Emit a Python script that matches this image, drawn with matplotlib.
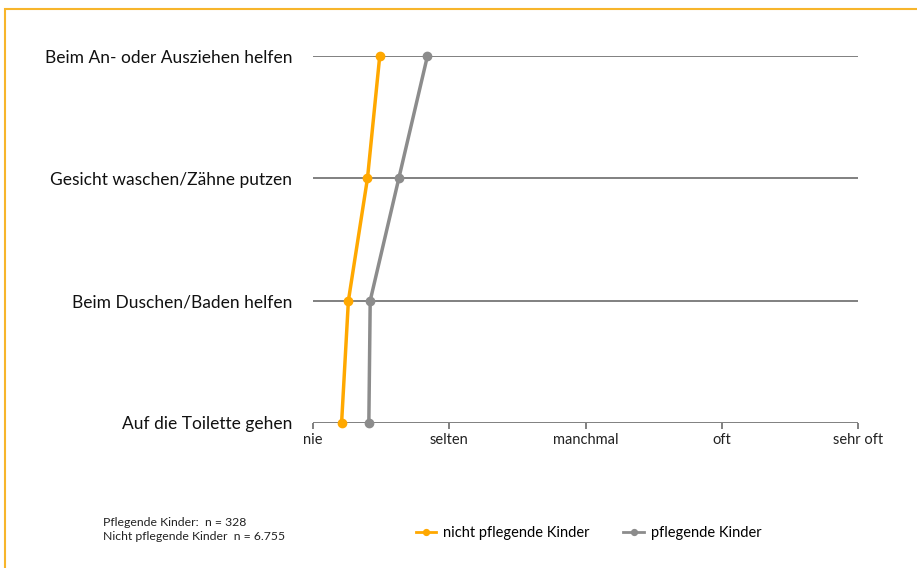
import matplotlib.pyplot as plt
from matplotlib.patches import Rectangle

# Daten
kategorien = ['Auf die Toilette gehen', 'Beim Duschen/Baden helfen',
              'Gesicht waschen/Zähne putzen', 'Beim An- oder Ausziehen helfen']
skala = ['nie', 'selten', 'manchmal', 'oft', 'sehr oft']
nicht_pflegend = [1.21, 1.26, 1.40, 1.49]
pflegend = [1.41, 1.42, 1.63, 1.84]

ORANGE = '#FFA800'
GRAU = '#8C8C8C'

plt.rcParams['font.family'] = ['Lato', 'DejaVu Sans']

fig = plt.figure(figsize=(9.17, 5.68), dpi=100)
ax = fig.add_axes([0.3413, 0.2553, 0.5944, 0.6461])

y = list(range(len(kategorien)))
for yi in y:
    ax.axhline(yi, color='#6b6b6b', lw=1.2, zorder=1)

ax.plot(nicht_pflegend, y, color=ORANGE, lw=2.5, marker='o', ms=6,
        label='nicht pflegende Kinder', zorder=3, clip_on=False)
ax.plot(pflegend, y, color=GRAU, lw=2.5, marker='o', ms=6,
        label='pflegende Kinder', zorder=3, clip_on=False)

ax.set_xlim(1, 5)
ax.set_ylim(0, 3)
ax.set_xticks([1, 2, 3, 4, 5])
ax.set_xticklabels(skala, fontsize=10.5, color='#222222')
ax.set_yticks(y)
ax.set_yticklabels(kategorien, fontsize=12.5, color='#111111')
ax.tick_params(axis='y', length=0, pad=15)
ax.tick_params(axis='x', length=4, width=1.2, color='#6b6b6b', pad=3)
for s in ax.spines.values():
    s.set_visible(False)
ax.patch.set_alpha(0)

leg = fig.legend(loc='center', bbox_to_anchor=(0.642, 0.062), ncol=2,
                 frameon=False, fontsize=10.5, handlelength=1.4,
                 handletextpad=0.5, columnspacing=2.3, markerscale=0.7)
for h in leg.get_lines():
    h.set_linewidth(2)

fig.text(0.112, 0.068, 'Pflegende Kinder:  n = 328\nNicht pflegende Kinder  n = 6.755',
         fontsize=8.8, va='center', ha='left', linespacing=1.25, color='#222222')

# Rahmen oben und links
fig.add_artist(Rectangle((0.005, -0.01), 1.2, 0.995, transform=fig.transFigure,
                         fill=False, edgecolor='#F7B52B', lw=1.5))

fig.savefig('out.png', dpi=100)
